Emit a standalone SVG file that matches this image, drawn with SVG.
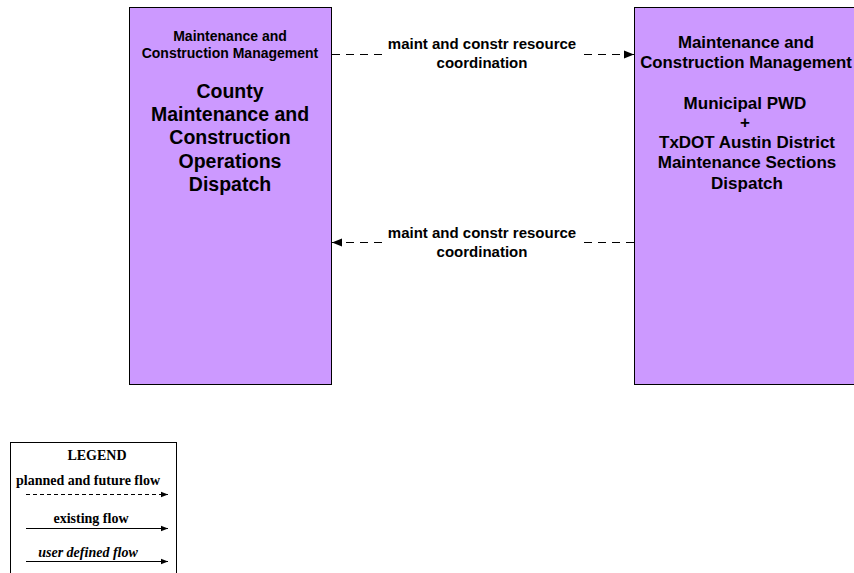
<svg xmlns="http://www.w3.org/2000/svg" width="854" height="573" viewBox="0 0 854 573">
<style>
.box{fill:#CC99FF;stroke:#000;stroke-width:1}
.t{font-family:"Liberation Sans",Arial,sans-serif;font-weight:bold;fill:#000;text-anchor:middle}
.lg{font-family:"Liberation Serif","Times New Roman",serif;font-weight:bold;fill:#000;text-anchor:middle}
.flow{stroke:#000;stroke-width:1.2;fill:none}
.dash{stroke-dasharray:8,6}
</style>
<defs>
<marker id="ah" viewBox="0 0 10 10" refX="10" refY="5" markerWidth="10" markerHeight="10" markerUnits="userSpaceOnUse" orient="auto">
<path d="M0,1 L10,5 L0,9 Z" fill="#000"/>
</marker>
<marker id="ahs" viewBox="0 0 10 10" refX="10" refY="5" markerWidth="7" markerHeight="7" markerUnits="userSpaceOnUse" orient="auto">
<path d="M0,1 L10,5 L0,9 Z" fill="#000"/>
</marker>
</defs>
<rect width="854" height="573" fill="#fff"/>
<g id="county">
<rect class="box" x="129.5" y="7.5" width="202" height="377"/>
<text class="t" font-size="14"><tspan x="230" y="41">Maintenance and</tspan><tspan x="230" y="58">Construction Management</tspan></text>
<text class="t" font-size="19.5"><tspan x="230" y="98">County</tspan><tspan x="230" y="121">Maintenance and</tspan><tspan x="230" y="144">Construction</tspan><tspan x="230" y="168">Operations</tspan><tspan x="230" y="191">Dispatch</tspan></text>
</g>
<g id="municipal">
<rect class="box" x="634.5" y="7.5" width="230" height="377"/>
<text class="t" font-size="16.8"><tspan x="746" y="48">Maintenance and</tspan><tspan x="746" y="68">Construction Management</tspan></text>
<text class="t" font-size="17"><tspan x="745" y="109">Municipal PWD</tspan><tspan x="745" y="128">+</tspan><tspan x="747" y="148">TxDOT Austin District</tspan><tspan x="747" y="168">Maintenance Sections</tspan><tspan x="747" y="189">Dispatch</tspan></text>
</g>
<g id="connectors">
<line class="flow dash" x1="332" y1="54.5" x2="634" y2="54.5" marker-end="url(#ah)"/>
<rect x="384" y="36" width="197" height="34" fill="#fff"/>
<text class="t" font-size="15"><tspan x="482" y="49">maint and constr resource</tspan><tspan x="482" y="68">coordination</tspan></text>
<line class="flow dash" x1="634" y1="242.5" x2="332" y2="242.5" marker-end="url(#ah)"/>
<rect x="384" y="224" width="197" height="34" fill="#fff"/>
<text class="t" font-size="15"><tspan x="482" y="238">maint and constr resource</tspan><tspan x="482" y="257">coordination</tspan></text>
</g>
<g id="legend">
<rect x="10.5" y="442.5" width="166" height="140" fill="#fff" stroke="#000" stroke-width="1"/>
<text class="lg" font-size="14" x="97" y="460">LEGEND</text>
<text class="lg" font-size="14" x="88" y="485">planned and future flow</text>
<line class="flow" stroke-dasharray="4,3" x1="26" y1="494.5" x2="168" y2="494.5" marker-end="url(#ahs)"/>
<text class="lg" font-size="14" x="91" y="523">existing flow</text>
<line class="flow" x1="26" y1="528.5" x2="168" y2="528.5" marker-end="url(#ahs)"/>
<text class="lg" font-size="14" font-style="italic" x="88" y="557">user defined flow</text>
<line class="flow" stroke-width="1.8" x1="26" y1="561.5" x2="168" y2="561.5" marker-end="url(#ahs)"/>
</g>
</svg>
